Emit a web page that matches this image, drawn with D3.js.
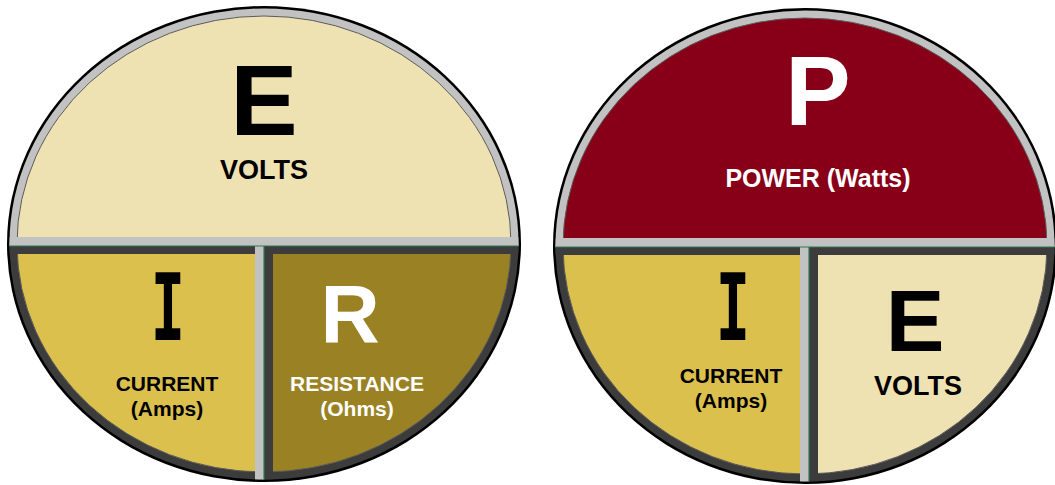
<!DOCTYPE html>
<html>
<head>
<meta charset="utf-8">
<script src="https://cdn.jsdelivr.net/npm/d3@7"></script>
<style>
  html, body { margin: 0; padding: 0; background: #fff; }
  text { font-family: "Liberation Sans", Arial, sans-serif; font-weight: bold; }
</style>
</head>
<body>
<div id="scene"></div>
<script>
// Ohm's law wheel (left) and power wheel (right)
const wheelNames = ["ohm", "power"];
const topLetters = ["E", "P"];
const topLabels = ["VOLTS", "POWER (Watts)"];
const leftLetters = ["I", "I"];
const leftLabels = [["CURRENT", "(Amps)"], ["CURRENT", "(Amps)"]];
const rightLetters = ["R", "E"];
const rightLabels = [["RESISTANCE", "(Ohms)"], ["VOLTS"]];

const svg = d3.select("#scene")
    .append("svg")
    .attr("width", 1055)
    .attr("height", 485);

const defs = svg.append("defs");

// geometry of each wheel (layout, not data)
const wheels = [
    { cx: 264, cy: 244, rx: 257, ry: 238, hy: 237, vx: 255,
      top: "#efe2b2", left: "#dcc04e", right: "#9a8224",
      topInk: "#000", leftInk: "#000", rightInk: "#fff",
      topLetter: { x: 264, y: 135, size: 101 }, topLabel: { x: 264, y: 170, size: 27 },
      leftLetter: { x: 168, y: 340, size: 92 }, leftLabel: { x: 167, y: 383, size: 21 },
      rightLetter: { x: 350, y: 342, size: 82 }, rightLabel: { x: 357, y: 383, size: 21 } },
    { cx: 805, cy: 246, rx: 252, ry: 238, hy: 238, vx: 800,
      top: "#870018", left: "#dcc04e", right: "#efe2b2",
      topInk: "#fff", leftInk: "#000", rightInk: "#000",
      topLetter: { x: 818, y: 125, size: 98 }, topLabel: { x: 818, y: 178, size: 25 },
      leftLetter: { x: 733, y: 340, size: 92 }, leftLabel: { x: 731, y: 375, size: 21 },
      rightLetter: { x: 915, y: 351, size: 88 }, rightLabel: { x: 918, y: 386, size: 27 } }
];

wheels.forEach((w, i) => {
    const g = svg.append("g").attr("class", "wheel-" + wheelNames[i]);
    const ringId = "ring-" + i, innerId = "inner-" + i;

    defs.append("clipPath").attr("id", ringId)
        .append("ellipse").attr("cx", w.cx).attr("cy", w.cy).attr("rx", w.rx - 2.5).attr("ry", w.ry - 2.5);
    defs.append("clipPath").attr("id", innerId)
        .append("ellipse").attr("cx", w.cx).attr("cy", w.cy).attr("rx", w.rx - 10).attr("ry", w.ry - 10);

    // black outline
    g.append("ellipse")
        .attr("cx", w.cx).attr("cy", w.cy).attr("rx", w.rx).attr("ry", w.ry)
        .attr("fill", "#000");

    // ring: light upper half, dark lower half
    const ring = g.append("g").attr("clip-path", `url(#${ringId})`);
    ring.append("rect").attr("x", w.cx - w.rx).attr("y", w.cy - w.ry)
        .attr("width", w.rx * 2).attr("height", w.hy + 9 - (w.cy - w.ry)).attr("fill", "#c2c2c2");
    ring.append("rect").attr("x", w.cx - w.rx).attr("y", w.hy + 9)
        .attr("width", w.rx * 2).attr("height", w.cy + w.ry - w.hy).attr("fill", "#3c3c3c");

    // coloured segments
    const inner = g.append("g").attr("clip-path", `url(#${innerId})`);
    inner.append("rect").attr("x", w.cx - w.rx).attr("y", w.cy - w.ry)
        .attr("width", w.rx * 2).attr("height", w.hy - (w.cy - w.ry)).attr("fill", w.top);
    inner.append("rect").attr("x", w.cx - w.rx).attr("y", w.hy)
        .attr("width", w.vx - (w.cx - w.rx)).attr("height", w.ry * 2).attr("fill", w.left);
    inner.append("rect").attr("x", w.vx).attr("y", w.hy)
        .attr("width", w.cx + w.rx - w.vx).attr("height", w.ry * 2).attr("fill", w.right);
    g.append("ellipse")
        .attr("cx", w.cx).attr("cy", w.cy).attr("rx", w.rx - 10).attr("ry", w.ry - 10)
        .attr("fill", "none").attr("stroke", "#5a5a5a").attr("stroke-width", 1);

    // dividers
    const div = g.append("g").attr("clip-path", `url(#${ringId})`);
    div.append("rect").attr("x", w.cx - w.rx).attr("y", w.hy)
        .attr("width", w.rx * 2).attr("height", 9).attr("fill", "#c2c2c2");
    div.append("rect").attr("x", w.cx - w.rx).attr("y", w.hy + 9)
        .attr("width", w.rx * 2).attr("height", 8).attr("fill", "#3c3c3c");
    div.append("rect").attr("x", w.vx).attr("y", w.hy + 9)
        .attr("width", 9).attr("height", w.ry * 2).attr("fill", "#c2c2c2");
    div.append("rect").attr("x", w.vx + 9).attr("y", w.hy + 17)
        .attr("width", 9).attr("height", w.ry * 2).attr("fill", "#3c3c3c");
    // green seams
    div.append("line").attr("x1", w.cx - w.rx).attr("x2", w.cx + w.rx)
        .attr("y1", w.hy + 9).attr("y2", w.hy + 9)
        .attr("stroke", "#2f7a52").attr("stroke-width", 1.2);
    div.append("line").attr("x1", w.vx + 9).attr("x2", w.vx + 9)
        .attr("y1", w.hy + 9).attr("y2", w.cy + w.ry)
        .attr("stroke", "#2f7a52").attr("stroke-width", 1.2);

    // texts
    const put = (pos, str, fill, family, sx) => {
        g.append("text")
            .attr("transform", `translate(${pos.x},${pos.y}) scale(${sx || 1},1)`)
            .attr("text-anchor", "middle")
            .attr("font-size", pos.size)
            .attr("fill", fill)
            .style("font-family", family || null)
            .text(str);
    };
    const putLines = (pos, lines, fill) => {
        lines.forEach((s, k) => {
            g.append("text")
                .attr("x", pos.x).attr("y", pos.y + k * 25)
                .attr("text-anchor", "middle")
                .attr("dominant-baseline", "central")
                .attr("font-size", pos.size)
                .attr("fill", fill)
                .text(s);
        });
    };

    put(w.topLetter, topLetters[i], w.topInk);
    putLines(w.topLabel, [topLabels[i]], w.topInk);
    put(w.leftLetter, leftLetters[i], w.leftInk, "'DejaVu Sans Mono', 'Liberation Mono', monospace", 0.62);
    putLines(w.leftLabel, leftLabels[i], w.leftInk);
    put(w.rightLetter, rightLetters[i], w.rightInk);
    putLines(w.rightLabel, rightLabels[i], w.rightInk);
});
</script>
</body>
</html>
